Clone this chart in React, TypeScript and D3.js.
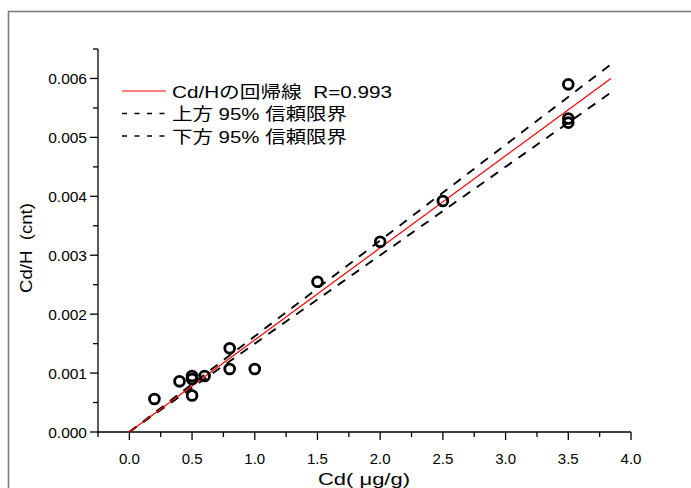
import { useEffect, useRef } from "react";
import * as d3 from "d3";

// measured Cd concentration (ug/g) vs Cd/H count ratio
const cdConc = [0.2, 0.4, 0.5, 0.5, 0.5, 0.6, 0.8, 0.8, 1.0, 1.5, 2.0, 2.5, 3.5, 3.5, 3.5];
const cdRatio = [0.00056, 0.00086, 0.00095, 0.0009, 0.00062, 0.00095, 0.00142, 0.00107, 0.00107, 0.00255, 0.00323, 0.00392, 0.0059, 0.00532, 0.00525];

// regression line and 95% confidence limits
const fitX = [0, 3.84];
const fitY = [0, 0.006];
const upperY = [0, 0.00624];
const lowerY = [0, 0.00576];

const xMajor = [0, 0.5, 1.0, 1.5, 2.0, 2.5, 3.0, 3.5, 4.0];
const xMinor = [-0.25, 0.25, 0.75, 1.25, 1.75, 2.25, 2.75, 3.25, 3.75];
const yMajor = [0, 0.001, 0.002, 0.003, 0.004, 0.005, 0.006];
const yMinor = [0.0005, 0.0015, 0.0025, 0.0035, 0.0045, 0.0055, 0.0065];

const legendLabels = ["Cd/Hの回帰線  R=0.993", "上方 95% 信頼限界", "下方 95% 信頼限界"];
const legendWidths = [220, 175, 175];
const xTitle = "Cd( μg/g)";
const yTitle = "Cd/H  (cnt)";

const FONT = "'Liberation Sans', Arial, 'Noto Sans CJK JP', sans-serif";

function Chart() {
  const node = useRef<SVGSVGElement>(null);

  useEffect(() => {
    const width = 691;
    const height = 488;
    const svg = d3.select(node.current);
    svg.selectAll("*").remove();
    svg.attr("width", width).attr("height", height);

    svg.append("rect").attr("width", width).attr("height", height).attr("fill", "#fff");

    // outer frame
    svg.append("rect")
      .attr("x", 8.5).attr("y", 11.5)
      .attr("width", 720).attr("height", 520)
      .attr("fill", "none")
      .attr("stroke", "#7d7d7d")
      .attr("stroke-width", 1.6);

    const x = d3.scaleLinear().domain([-0.25, 4.0]).range([98, 631]);
    const y = d3.scaleLinear().domain([0, 0.0065]).range([432, 49]);

    const axes = svg.append("g").attr("stroke", "#000").attr("stroke-width", 1.3);
    axes.append("line").attr("x1", x(-0.25)).attr("x2", x(4.0)).attr("y1", y(0)).attr("y2", y(0));
    axes.append("line").attr("x1", x(-0.25)).attr("x2", x(-0.25)).attr("y1", y(0) + 0.6).attr("y2", y(0.0065));

    axes.selectAll(".xmaj").data(xMajor).enter().append("line")
      .attr("x1", d => x(d)).attr("x2", d => x(d))
      .attr("y1", y(0)).attr("y2", y(0) + 8);
    axes.selectAll(".xmin").data(xMinor).enter().append("line")
      .attr("x1", d => x(d)).attr("x2", d => x(d))
      .attr("y1", y(0)).attr("y2", y(0) + 5);
    axes.selectAll(".ymaj").data(yMajor).enter().append("line")
      .attr("x1", x(-0.25) - 8).attr("x2", x(-0.25))
      .attr("y1", d => y(d)).attr("y2", d => y(d));
    axes.selectAll(".ymin").data(yMinor).enter().append("line")
      .attr("x1", x(-0.25) - 5).attr("x2", x(-0.25))
      .attr("y1", d => y(d)).attr("y2", d => y(d));

    svg.selectAll(".xlab").data(xMajor).enter().append("text")
      .attr("x", d => x(d)).attr("y", 464)
      .attr("text-anchor", "middle")
      .attr("font-family", FONT).attr("font-size", 15)
      .text(d => d.toFixed(1));

    svg.selectAll(".ylab").data(yMajor).enter().append("text")
      .attr("x", x(-0.25) - 11).attr("y", d => y(d) + 5.5)
      .attr("text-anchor", "end")
      .attr("font-family", FONT).attr("font-size", 15.5)
      .text(d => d.toFixed(3));

    svg.append("text")
      .attr("x", 364).attr("y", 485)
      .attr("text-anchor", "middle")
      .attr("font-family", FONT).attr("font-size", 17)
      .attr("textLength", 92).attr("lengthAdjust", "spacingAndGlyphs")
      .text(xTitle);

    svg.append("text")
      .attr("transform", "translate(32,248) rotate(-90)")
      .attr("text-anchor", "middle")
      .attr("font-family", FONT).attr("font-size", 17)
      .attr("textLength", 90).attr("lengthAdjust", "spacingAndGlyphs")
      .style("white-space", "pre")
      .text(yTitle);

    const line = d3.line<[number, number]>().x(d => x(d[0])).y(d => y(d[1]));

    const bands = [upperY, lowerY];
    svg.selectAll(".band").data(bands).enter().append("path")
      .attr("d", d => line(fitX.map((v, i) => [v, d[i]]) as [number, number][]))
      .attr("fill", "none")
      .attr("stroke", "#000")
      .attr("stroke-width", 1.9)
      .attr("stroke-dasharray", "9,8");

    svg.append("path")
      .attr("d", line(fitX.map((v, i) => [v, fitY[i]]) as [number, number][]))
      .attr("fill", "none")
      .attr("stroke", "#ff0000")
      .attr("stroke-width", 1.2);

    svg.selectAll(".pt").data(cdConc).enter().append("circle")
      .attr("cx", d => x(d))
      .attr("cy", (d, i) => y(cdRatio[i]))
      .attr("r", 4.9)
      .attr("fill", "none")
      .attr("stroke", "#000")
      .attr("stroke-width", 2.8);

    // legend
    const legend = svg.append("g");
    const rowY = [91, 113.5, 136];
    legendLabels.forEach((label, i) => {
      legend.append("line")
        .attr("x1", 122).attr("x2", 166)
        .attr("y1", rowY[i]).attr("y2", rowY[i])
        .attr("stroke", i === 0 ? "#ff0000" : "#000")
        .attr("stroke-width", i === 0 ? 1.2 : 1.4)
        .attr("stroke-dasharray", i === 0 ? null : "5,7.5");
      legend.append("text")
        .attr("x", 172).attr("y", rowY[i] + 6.5)
        .attr("font-family", FONT).attr("font-size", 17)
        .attr("textLength", legendWidths[i]).attr("lengthAdjust", "spacingAndGlyphs")
        .style("white-space", "pre")
        .text(label);
    });
  }, []);

  return <svg ref={node} style={{ position: "absolute", left: 0, top: 0 }} />;
}

export default function App() {
  return <Chart />;
}
